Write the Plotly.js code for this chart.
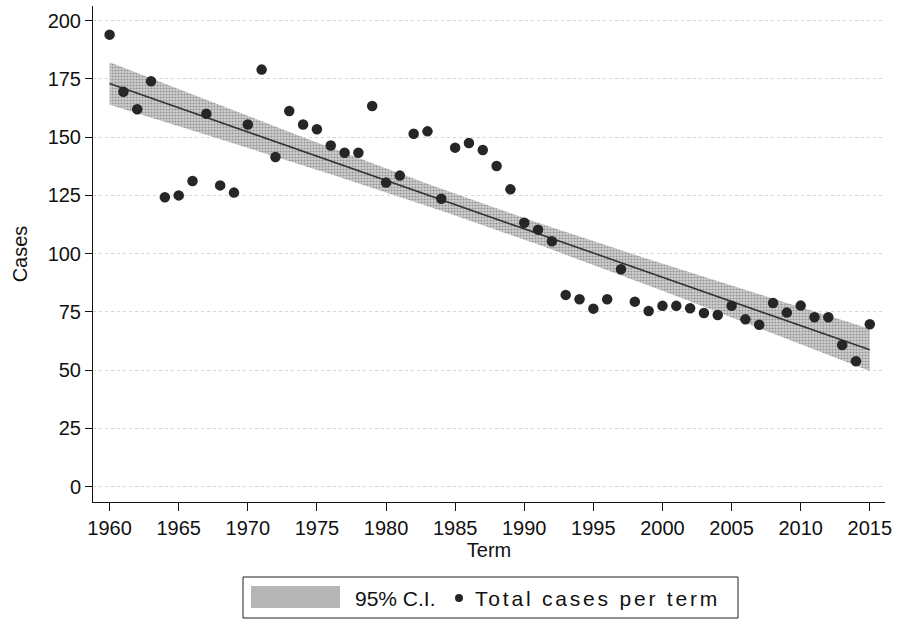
<!DOCTYPE html>
<html>
<head>
<meta charset="utf-8">
<script src="https://cdn.plot.ly/plotly-3.0.1.min.js"></script>
<style>html,body{margin:0;padding:0;background:#fff;}#chart{width:899px;height:619px;}</style>
</head>
<body>
<div id="chart"></div>
<script>
const years = [1960,1961,1962,1963,1964,1965,1966,1967,1968,1969,
  1970,1971,1972,1973,1974,1975,1976,1977,1978,1979,
  1980,1981,1982,1983,1984,1985,1986,1987,1988,1989,
  1990,1991,1992,1993,1994,1995,1996,1997,1998,1999,
  2000,2001,2002,2003,2004,2005,2006,2007,2008,2009,
  2010,2011,2012,2013,2014,2015];
const cases = [194,169.5,162,174,124.2,125,131.2,160,129.3,126.2,
  155.4,179,141.5,161.2,155.4,153.4,146.4,143.3,143.3,163.4,
  130.5,133.5,151.5,152.5,123.6,145.5,147.5,144.5,137.6,127.6,
  113.3,110.3,105.3,82.3,80.4,76.4,80.4,93.3,79.4,75.4,
  77.6,77.6,76.6,74.5,73.7,77.6,71.8,69.5,78.8,74.7,
  77.7,72.7,72.7,60.8,53.8,69.7];
const yTicks = [0,25,50,75,100,125,150,175,200];
const xTicks = [1960,1965,1970,1975,1980,1985,1990,1995,2000,2005,2010,2015];
const seriesNames = ["95% C.I.", "Total cases per term"];

// Linear fit with 95% confidence interval of the mean (as in the original)
const n = years.length;
const mx = years.reduce((a,b)=>a+b,0)/n;
const my = cases.reduce((a,b)=>a+b,0)/n;
let sxx=0, sxy=0;
for (let i=0;i<n;i++){ sxx += (years[i]-mx)**2; sxy += (years[i]-mx)*(cases[i]-my); }
const slope = sxy/sxx, icpt = my - slope*mx;
let sse=0;
for (let i=0;i<n;i++){ sse += (cases[i]-(icpt+slope*years[i]))**2; }
const s = Math.sqrt(sse/(n-2));
const tcrit = 2.005;
const fit = years.map(x=>icpt+slope*x);
const hw = years.map(x=>tcrit*s*Math.sqrt(1/n + (x-mx)**2/sxx));
const upper = fit.map((f,i)=>f+hw[i]);
const lower = fit.map((f,i)=>f-hw[i]);

const font = "Liberation Sans, Arial, Helvetica, sans-serif";
const bandPattern = {shape: '.', bgcolor: '#d0d0d0', fgcolor: '#939393', size: 3, solidity: 0.4};
const traces = [
  {
    x: years.concat(years.slice().reverse()),
    y: upper.concat(lower.slice().reverse()),
    type: 'scatter', mode: 'lines', fill: 'toself',
    fillcolor: '#bababa', fillpattern: bandPattern,
    line: {width: 0}, name: seriesNames[0], hoverinfo: 'skip', showlegend: false
  },
  {
    x: years, y: fit, type: 'scatter', mode: 'lines',
    line: {color: '#333', width: 1.6}, showlegend: false, hoverinfo: 'skip'
  },
  {
    x: years, y: cases, type: 'scatter', mode: 'markers',
    marker: {color: '#262626', size: 10.5, line: {width: 0}},
    name: seriesNames[1], showlegend: false
  }
];

// Legend drawn manually (paper coordinates; plot area is 93..885 x 6..502 px)
const px = v => (v - 93) / 792;
const py = v => (502 - v) / 496;
const shapes = [
  {type: 'rect', xref: 'paper', yref: 'paper', x0: px(243), x1: px(738), y0: py(618), y1: py(577),
   line: {color: '#222', width: 1}, fillcolor: '#fff'},
  {type: 'rect', xref: 'paper', yref: 'paper', x0: px(251), x1: px(340), y0: py(608), y1: py(586),
   line: {width: 0}, fillcolor: '#b6b6b6'},
  {type: 'circle', xref: 'paper', yref: 'paper', xsizemode: 'pixel', ysizemode: 'pixel',
   xanchor: px(459), yanchor: py(598), x0: -4, x1: 4, y0: -4, y1: 4,
   line: {width: 0}, fillcolor: '#262626'}
];
const annotations = [
  {xref: 'paper', yref: 'paper', x: px(353), y: py(598), xanchor: 'left', yanchor: 'middle',
   text: seriesNames[0], showarrow: false, font: {family: font, size: 21, color: '#111'}},
  {xref: 'paper', yref: 'paper', x: px(473), y: py(598), xanchor: 'left', yanchor: 'middle',
   text: '<span style="letter-spacing:2.8px">' + seriesNames[1] + '</span>', showarrow: false,
   font: {family: font, size: 21, color: '#111'}}
];

const layout = {
  width: 899, height: 619,
  margin: {l: 93, r: 14, t: 6, b: 117},
  paper_bgcolor: '#fff', plot_bgcolor: '#fff',
  font: {family: font, color: '#111', size: 17},
  showlegend: false,
  shapes: shapes, annotations: annotations,
  xaxis: {
    range: [1958.8, 2016.1], tickvals: xTicks, ticktext: xTicks.map(String),
    showgrid: false, zeroline: false, showline: true, linecolor: '#111', linewidth: 1,
    ticks: 'outside', ticklen: 8, tickcolor: '#111', tickwidth: 1,
    tickfont: {family: font, size: 20, color: '#111'},
    title: {text: 'Term', font: {family: font, size: 20, color: '#111'}, standoff: 4}
  },
  yaxis: {
    range: [-6.6, 206.3], tickvals: yTicks, ticktext: yTicks.map(String),
    showgrid: true, gridcolor: '#d6d6d6', griddash: 'dot', gridwidth: 1,
    zeroline: false, showline: true, linecolor: '#111', linewidth: 1,
    ticks: 'outside', ticklen: 7, tickcolor: '#111', tickwidth: 1,
    tickfont: {family: font, size: 20, color: '#111'},
    title: {text: 'Cases', font: {family: font, size: 20, color: '#111'}, standoff: 14}
  }
};

Plotly.newPlot('chart', traces, layout, {displayModeBar: false, staticPlot: true});
</script>
</body>
</html>
